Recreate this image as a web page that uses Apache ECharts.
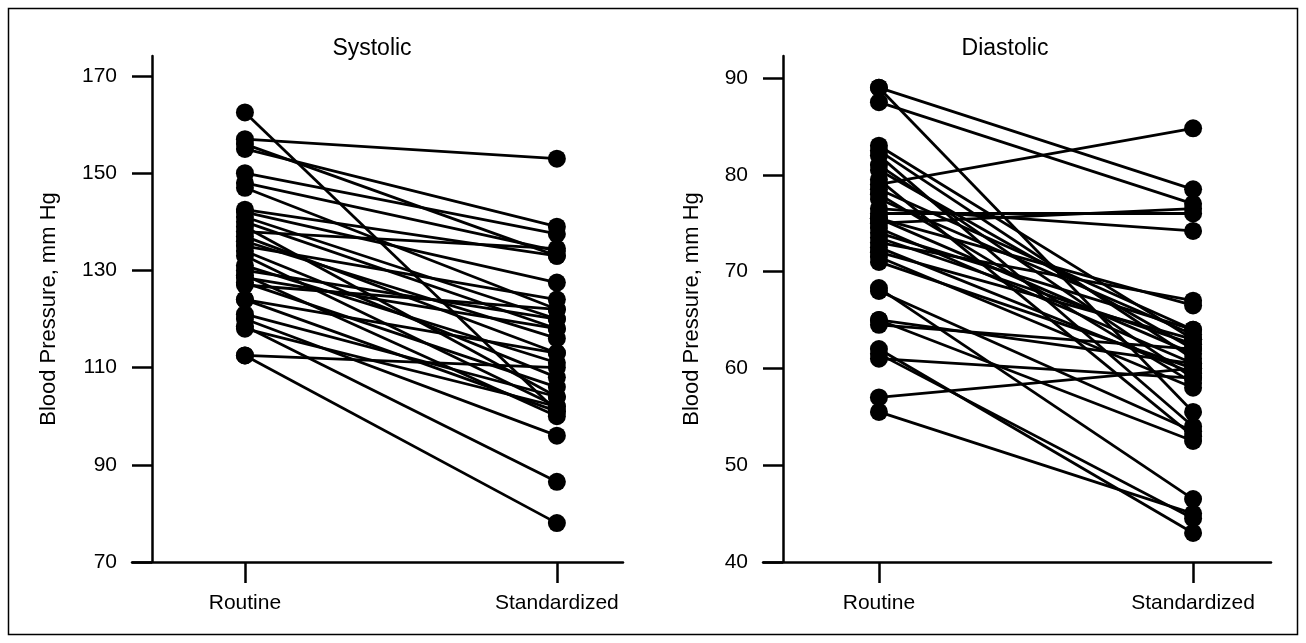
<!DOCTYPE html>
<html>
<head>
<meta charset="utf-8">
<script src="https://cdn.jsdelivr.net/npm/echarts@6/dist/echarts.min.js"></script>
<style>
html,body{margin:0;padding:0;background:#fff;}
#c{width:1306px;height:643px;}
</style>
</head>
<body>
<div id="c"></div>
<script>
// ---- data ----
const categories = ['Routine', 'Standardized'];
const sysTicks = [70, 90, 110, 130, 150, 170];
const diaTicks = [40, 50, 60, 70, 80, 90];
const sysRoutine  = [162.5, 157, 156, 155, 150, 148, 147, 142.5, 142, 141, 140, 139, 138, 137, 136, 135, 134, 133, 131, 130, 129, 128.5, 127.5, 127, 124, 124, 121, 120, 118.5, 118, 112.5, 112.5];
const sysStandard = [101, 153, 133, 139, 137.5, 134, 122, 133, 127.5, 120, 118, 104, 134.5, 113, 116, 124, 108, 102, 111, 120, 100, 118, 106, 122, 101, 113, 104, 96, 86.5, 102, 78, 110];
const diaRoutine  = [89, 89, 87.5, 83, 82.5, 82, 81, 80.5, 79.5, 79, 78.5, 78, 77.5, 76.5, 76, 75.5, 75.5, 75, 74.5, 74, 73.5, 73, 72.5, 72, 71.5, 71, 68.3, 68, 65, 65, 64.5, 62, 61.5, 61, 57, 55.5];
const diaStandard = [78.5, 55.5, 77, 63, 61, 54, 59, 62, 53, 84.8, 64, 58.5, 63.5, 74.2, 76, 66.5, 61.5, 76.5, 60.5, 64, 62.5, 67, 59.5, 63, 58, 60, 46.5, 53.5, 60.5, 52.5, 62, 43, 44.5, 59, 60, 45];

const FONT = 'Liberation Sans, Arial, Helvetica, sans-serif';
const FS = 21;

function pairSeries(r, s, gi) {
  return r.map((v, i) => ({
    type: 'line',
    xAxisIndex: gi, yAxisIndex: gi,
    data: [[0, v], [1, s[i]]],
    symbol: 'circle', symbolSize: 18,
    lineStyle: {color: '#000', width: 2.8},
    itemStyle: {color: '#000'},
    emphasis: {disabled: true},
    silent: true,
    animation: false,
    z: 2
  }));
}

function xAxis(gi, min, max) {
  return {
    type: 'value', gridIndex: gi, min: min, max: max,
    splitLine: {show: false},
    axisLine: {onZero: false, lineStyle: {color: '#000', width: 2.5}},
    axisTick: {length: 21, lineStyle: {color: '#000', width: 2.5}, customValues: [0, 1]},
    axisLabel: {customValues: [0, 1], formatter: v => categories[Math.round(v)] || '',
      color: '#000', fontSize: FS, fontFamily: FONT, margin: 31}
  };
}
function yAxis(gi, min, max, ticks, gap) {
  return {
    type: 'value', gridIndex: gi, min: min, max: max, offset: -20,
    name: 'Blood Pressure, mm Hg', nameLocation: 'middle', nameGap: gap,
    nameTextStyle: {color: '#000', fontSize: 22, fontFamily: FONT},
    splitLine: {show: false},
    axisLine: {show: true, onZero: false, lineStyle: {color: '#000', width: 2.5}},
    axisTick: {length: 20, lineStyle: {color: '#000', width: 2.5}, customValues: ticks},
    axisLabel: {customValues: ticks, color: '#000', fontSize: FS, fontFamily: FONT, margin: 35}
  };
}

const chart = echarts.init(document.getElementById('c'), null, {renderer: 'canvas'});
chart.setOption({
  animation: false,
  backgroundColor: '#fff',
  title: [
    {text: 'Systolic', left: 367, top: 32, textAlign: 'center',
     textStyle: {color: '#000', fontSize: 23, fontWeight: 'normal', fontFamily: FONT}},
    {text: 'Diastolic', left: 1000, top: 32, textAlign: 'center',
     textStyle: {color: '#000', fontSize: 23, fontWeight: 'normal', fontFamily: FONT}}
  ],
  graphic: [{type: 'rect', shape: {x: 8.5, y: 8.5, width: 1289, height: 626},
    style: {fill: 'none', stroke: '#000', lineWidth: 1.5}, silent: true}],
  grid: [
    {left: 132, top: 56, width: 491, height: 506, containLabel: false},
    {left: 763, top: 56, width: 508, height: 506, containLabel: false}
  ],
  xAxis: [xAxis(0, -0.362, 1.212), xAxis(1, -0.369, 1.248)],
  yAxis: [yAxis(0, 70, 174.12, sysTicks, 92), yAxis(1, 40, 92.27, diaTicks, 80)],
  series: [].concat(pairSeries(sysRoutine, sysStandard, 0), pairSeries(diaRoutine, diaStandard, 1))
});
</script>
</body>
</html>
